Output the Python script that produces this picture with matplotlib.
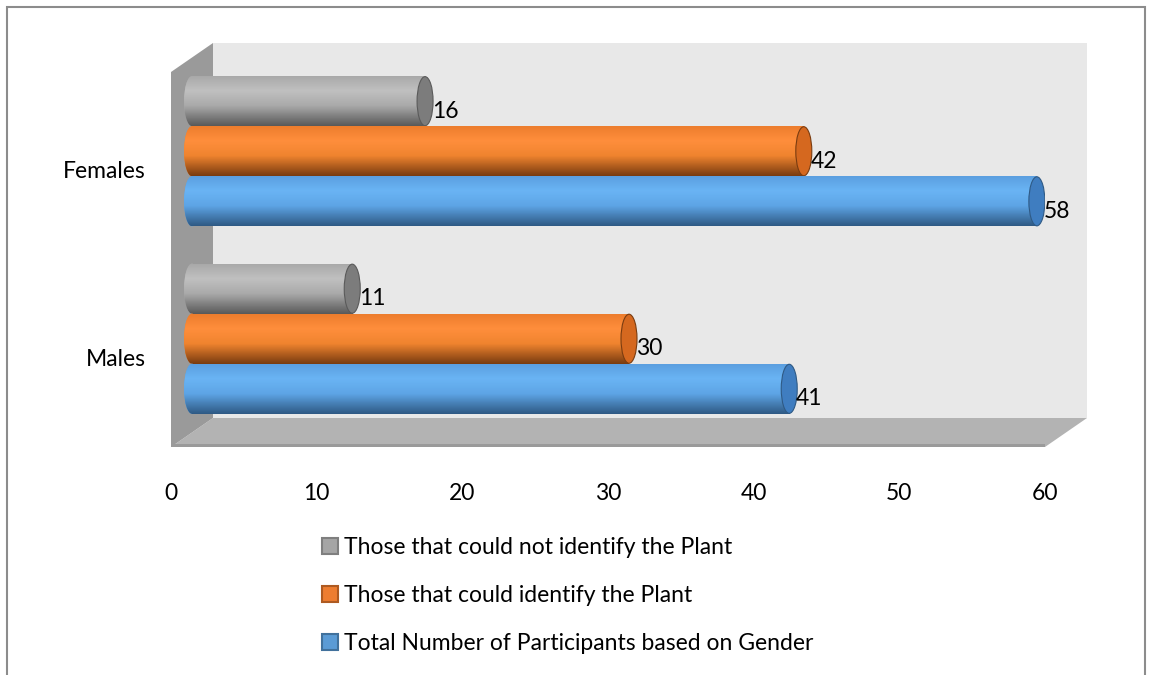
import numpy as np
import matplotlib
matplotlib.use("Agg")
import matplotlib.pyplot as plt
from matplotlib.colors import LinearSegmentedColormap
from matplotlib.patches import Polygon, Ellipse, Rectangle, Patch
from matplotlib.transforms import ScaledTranslation

plt.rcParams['font.family'] = ['Lato', 'DejaVu Sans']

# data
categories = ['Males', 'Females']
not_identified = [11, 16]
identified = [30, 42]
total = [41, 58]
series_names = ['Those that could not identify the Plant',
                'Those that could identify the Plant',
                'Total Number of Participants based on Gender']
x_ticks = [0, 10, 20, 30, 40, 50, 60]

# colours: (top, highlight, base, dark), cap, legend edge
shades = [('#a8a8a8', '#c0c0c0', '#aaaaaa', '#5a5a5a'),
          ('#ec7c2c', '#ff8e3c', '#f0842f', '#7a3c10'),
          ('#5a9edf', '#6ab4f4', '#5ea5e6', '#2f5a85')]
caps = ['#7c7c7c', '#d5681f', '#3f7dc0']
legend_cols = [('#a5a5a5', '#7f7f7f'), ('#ed7d31', '#ae5a21'), ('#5b9bd5', '#41719c')]
fs = 16.5

W, H = 1152, 675
fig = plt.figure(figsize=(W / 100, H / 100), dpi=100)
# outer frame
fig.patches.append(Rectangle((7 / W, -0.05), 1138 / W, 1.05 - 7 / H, transform=fig.transFigure,
                             fill=False, edgecolor='#8c8c8c', lw=1.5))

ax_l, ax_r, ax_t, ax_b = 171, 1045, 72, 447
ax = fig.add_axes([ax_l / W, 1 - ax_b / H, (ax_r - ax_l) / W, (ax_b - ax_t) / H])
ax.set_xlim(0, 60)
ax.set_ylim(-0.5, 1.5)
for s in ax.spines.values():
    s.set_visible(False)
ax.patch.set_visible(False)

# 3d depth in pixels
depth_x, depth_y = 42, 29
dx = depth_x / (ax_r - ax_l)
dy = depth_y / (ax_b - ax_t)

# walls
back = Polygon([(dx, dy), (1 + dx, dy), (1 + dx, 1 + dy), (dx, 1 + dy)], closed=True,
               transform=ax.transAxes, facecolor='#e8e8e8', edgecolor='none', zorder=0, clip_on=False)
left = Polygon([(0, 0), (dx, dy), (dx, 1 + dy), (0, 1)], closed=True,
               transform=ax.transAxes, facecolor='#9a9a9a', edgecolor='none', zorder=0.5, clip_on=False)
floor = Polygon([(0, 0), (1, 0), (1 + dx, dy), (dx, dy)], closed=True,
                transform=ax.transAxes, facecolor='#b3b3b3', edgecolor='none', zorder=0.4, clip_on=False)
edge = Polygon([(0, 0), (1, 0), (1, 0.008), (0, 0.008)], closed=True,
               transform=ax.transAxes, facecolor='#9a9a9a', edgecolor='none', zorder=0.6, clip_on=False)
for p in (back, floor, left, edge):
    ax.add_patch(p)

# bars sit at half depth
mid = ax.transData + ScaledTranslation(depth_x / 200, depth_y / 200, fig.dpi_scale_trans)

y = np.arange(len(categories))
h = 0.267
cap_w = 16 / ((ax_r - ax_l) / 60)
grad = np.linspace(0, 1, 64).reshape(-1, 1)
data = [not_identified, identified, total]
offsets = [h, 0, -h]

for k, (vals, off) in enumerate(zip(data, offsets)):
    top, hi, base, dark = shades[k]
    cmap = LinearSegmentedColormap.from_list('c%d' % k, [(0, top), (0.3, hi), (0.6, base), (1, dark)])
    bars = ax.barh(y + off, vals, height=h, color=base, transform=mid, zorder=2 + k * 0.1)
    for rect, v, yc in zip(bars.patches, vals, y + off):
        im = ax.imshow(grad, cmap=cmap, aspect='auto', extent=(0, v, yc - h / 2, yc + h / 2),
                       transform=mid, zorder=2.01 + k * 0.1, interpolation='bilinear')
        im.set_clip_path(rect)
        lc = Ellipse((0, yc), cap_w, h, transform=mid, facecolor=base, edgecolor='none',
                     zorder=2 + k * 0.1)
        ax.add_patch(lc)
        im2 = ax.imshow(grad, cmap=cmap, aspect='auto', extent=(-cap_w / 2, 0.01, yc - h / 2, yc + h / 2),
                        transform=mid, zorder=2.01 + k * 0.1, interpolation='bilinear')
        im2.set_clip_path(lc)
        rc = Ellipse((v, yc), cap_w, h * 0.98, transform=mid, facecolor=caps[k],
                     edgecolor=dark, lw=0.8, zorder=2.05 + k * 0.1)
        ax.add_patch(rc)
        ax.annotate(str(v), (v, yc), xytext=(depth_x / 2 + 7, depth_y / 2 - 10),
                    textcoords='offset pixels', ha='left', va='center', fontsize=fs,
                    color='#000000', zorder=5)

ax.set_xlim(0, 60)
ax.set_ylim(-0.5, 1.5)
ax.set_xticks(x_ticks)
ax.set_yticks(y)
ax.set_yticklabels(categories)
ax.tick_params(length=0, labelsize=fs, colors='#000000')
ax.tick_params(axis='x', pad=26)
ax.tick_params(axis='y', pad=18)
for lbl in ax.get_yticklabels():
    lbl.set_transform(lbl.get_transform() + ScaledTranslation(0, -0.04, fig.dpi_scale_trans))

handles = [Patch(facecolor=fc, edgecolor=ec, lw=1.5) for fc, ec in legend_cols]
fig.legend(handles, series_names, loc='upper left', bbox_to_anchor=(322 / W, 1 - 537 / H),
           frameon=False, fontsize=fs, handlelength=0.7, handleheight=0.7,
           handletextpad=0.26, labelspacing=1.18, borderaxespad=0, borderpad=0)

fig.savefig('out.png', dpi=100)
